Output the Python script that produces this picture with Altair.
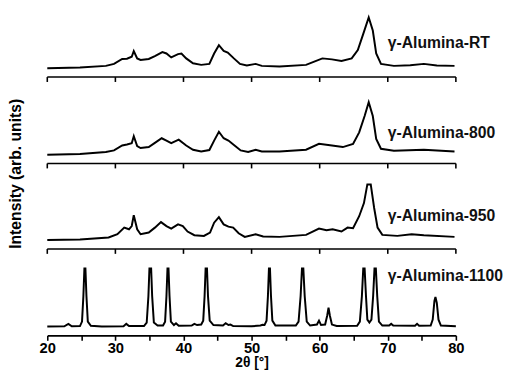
import altair as alt
import pandas as pd

# ---- data (x = 2θ in degrees, y = intensity in arbitrary units) ----
x_rt = [20, 24.8, 28.6, 29.8, 31.0, 31.7, 32.4, 32.7, 33.2, 33.7, 34.9, 35.8, 36.9, 37.5, 38.2,
        39.2, 39.7, 40.4, 41.4, 42.6, 43.8, 44.5, 45.2, 45.9, 46.5, 47.4, 48.3, 49.3, 50.6, 51.5,
        54.1, 58.0, 59.2, 60.4, 61.8, 63.2, 64.7, 65.6, 66.4, 67.2, 67.8, 68.3, 69.0, 70.9, 73.3,
        75.3, 77.2, 79.8]
y_rt = [9, 9.7, 11.4, 13.4, 18.4, 18.7, 20.7, 26.4, 19, 17.4, 18.4, 21.4, 25.4, 24, 20,
        23.4, 24, 19, 14, 12.4, 13.4, 24, 32.4, 26.7, 25, 19, 13.4, 11.7, 13.4, 11.4,
        10.7, 12.4, 15.7, 19, 18, 16.4, 19, 27.4, 44, 60.7, 47.4, 24, 13.4, 11.4, 12,
        13.4, 11.7, 11.4]

x_800 = [20, 24.8, 28.6, 29.8, 31.0, 31.7, 32.4, 32.7, 33.2, 33.7, 34.9, 35.8, 36.8, 37.5, 38.2,
         39.3, 40.4, 41.4, 42.6, 43.8, 44.5, 45.2, 45.9, 46.6, 47.5, 48.4, 49.5, 50.6, 51.5, 54.1,
         58.0, 59.9, 61.8, 63.4, 64.9, 65.8, 66.6, 67.2, 67.8, 68.3, 69.0, 70.9, 75.3, 79.8]
y_800 = [9, 9.7, 11.7, 13.3, 18.3, 19.3, 20.7, 27.7, 17.7, 15.7, 16.7, 21, 25.7, 23.3, 20.7,
         24.3, 18.3, 14, 12.3, 13.7, 23.3, 32.3, 25.7, 23.3, 18.3, 13.3, 11.7, 14, 12.3, 12.3,
         14, 20, 18.3, 16.7, 20, 31.7, 48.3, 62.3, 48.3, 25, 15, 13, 14, 12.3]

x_950 = [20, 24.8, 29.0, 30.3, 31.3, 32.0, 32.4, 32.7, 33.2, 33.7, 34.9, 35.8, 36.7, 37.5, 38.2,
         39.2, 39.9, 40.6, 41.6, 43.0, 43.9, 44.5, 45.2, 45.9, 46.6, 47.3, 48.1, 49.0, 50.6, 51.7,
         54.1, 58.0, 59.9, 61.0, 61.9, 63.2, 64.1, 64.9, 65.8, 66.5, 67.0, 67.5, 68.0, 68.5, 69.2,
         71.4, 73.5, 75.3, 79.8]
y_950 = [9, 9.7, 11.7, 15, 21.7, 20, 23.3, 34.3, 20, 15, 16.7, 21.7, 27.3, 23.3, 20.7,
         25, 23.3, 17.7, 14, 13.3, 16.7, 26.7, 32.3, 25, 22.7, 21.7, 16, 12.3, 15, 12.7,
         12.3, 14.3, 20.7, 19, 20, 17.7, 21.7, 21, 33.3, 46.7, 65.7, 65.7, 41.7, 21.7, 14.3,
         13.3, 15, 14, 12.3]

x_1100 = [20, 22.5, 23.1, 23.6, 24.8, 25.1, 25.3, 25.45, 25.6, 25.75, 25.95, 26.4, 28, 31.2, 31.6,
          32.0, 34.2, 34.6, 34.85, 35.0, 35.25, 35.4, 35.65, 36.2, 37.0, 37.3, 37.5, 37.65, 37.8,
          37.95, 38.15, 38.6, 38.9, 39.3, 41.2, 41.6, 42.0, 42.6, 42.9, 43.1, 43.25, 43.45, 43.6,
          43.85, 44.4, 45.8, 46.2, 46.6, 46.9, 47.3, 50.0, 51.3, 51.6, 51.9, 52.2, 52.4, 52.55,
          52.7, 52.85, 53.05, 53.5, 56.5, 56.9, 57.2, 57.4, 57.6, 57.8, 58.1, 58.6, 59.6, 59.9,
          60.2, 60.8, 61.1, 61.3, 61.5, 61.8, 62.5, 65.5, 65.9, 66.2, 66.4, 66.6, 66.8, 67.0,
          67.3, 67.6, 67.85, 68.05, 68.25, 68.45, 68.7, 69.2, 70.2, 70.5, 70.8, 74.0, 74.3, 74.6,
          76.3, 76.6, 76.85, 77.0, 77.2, 77.45, 77.8, 80]
y_1100 = [9, 9.3, 11.7, 9.3, 9.5, 14, 40, 68, 68, 40, 14, 9.8, 9, 9.3, 11.7,
          9.5, 9.5, 13, 40, 68, 68, 40, 13, 10, 10, 14, 40, 68, 68,
          40, 14, 10.5, 12.3, 9.8, 10, 11.7, 10.5, 11, 15, 40, 68, 68, 40,
          15, 10.5, 10, 12.3, 10.5, 11, 9.5, 9.3, 10, 10.7, 10.5, 15, 40, 68,
          68, 40, 15, 10, 10, 14, 40, 68, 68, 40, 14, 10, 11, 15,
          10.5, 11, 20, 28.3, 20, 11, 9.5, 9.8, 14, 40, 68, 68, 40, 16,
          13, 16, 40, 68, 68, 40, 14, 10, 10, 11.7, 10, 9.8, 11.7, 9.8,
          10, 16, 35, 39, 33, 16, 10, 9.3]

samples = ["γ-Alumina-RT", "γ-Alumina-800", "γ-Alumina-950", "γ-Alumina-1100"]
series_x = [x_rt, x_800, x_950, x_1100]
series_y = [y_rt, y_800, y_950, y_1100]
label_x = [70, 70, 70, 70]
label_y = [29.7, 25.7, 28.7, 55.3]

major_ticks = [20, 30, 40, 50, 60, 70, 80]
all_ticks = [20, 25, 30, 35, 40, 45, 50, 55, 60, 65, 70, 75, 80]

# ---- layout (pixels): vertical shift of each stacked pattern, plot size ----
FONT = "Liberation Sans"
W, H = 416, 330
SHIFT = [263, 175, 88, 0]
TICK = 5

xaxis = alt.Axis(values=all_ticks, labelExpr="datum.value % 10 == 0 ? datum.label : ''",
                 title="2θ [°]", labelFontSize=15, labelFontWeight="bold",
                 labelFont=FONT, labelColor="black", titleFont=FONT, titleColor="black",
                 titleFontSize=14, titleFontWeight="bold", labelPadding=0,
                 titlePadding=1, labelFlush=False, domainColor="black",
                 tickColor="black", domainWidth=1.6, tickWidth=1.6, tickSize=TICK, grid=False)
yaxis = alt.Axis(title="Intensity (arb. units)", domain=False, ticks=False, labels=False,
                 grid=False, titleX=-24, titleFontSize=16, titleFont=FONT,
                 titleColor="black", titleFontWeight="bold")
xenc = alt.X("x:Q", scale=alt.Scale(domain=[20, 80], nice=False, zero=False), axis=xaxis)
yenc = alt.Y("y:Q", scale=alt.Scale(domain=[0, H], nice=False, zero=False), axis=yaxis)

layers = []
for i in range(len(samples)):
    df = pd.DataFrame({"x": series_x[i], "y": series_y[i]})
    lab = pd.DataFrame({"x": [label_x[i]], "y": [label_y[i]], "t": [samples[i]]})
    layers.append(alt.Chart(df).mark_line(color="black", strokeWidth=2,
                                          yOffset=-SHIFT[i]).encode(x=xenc, y=yenc))
    layers.append(alt.Chart(lab).mark_text(align="left", baseline="alphabetic", fontSize=16,
                                           fontWeight="bold", font=FONT, color="#111111",
                                           yOffset=-SHIFT[i]).encode(x=xenc, y=yenc, text="t:N"))
    if i < len(samples) - 1:
        base_df = pd.DataFrame({"x": [major_ticks[0]], "x2": [major_ticks[-1]], "y": [0]})
        tick_df = pd.DataFrame({"x": major_ticks, "y": [0] * len(major_ticks),
                                "y2": [-TICK] * len(major_ticks)})
        layers.append(alt.Chart(base_df).mark_rule(color="black", strokeWidth=1.6,
                                                   yOffset=-SHIFT[i]).encode(
            x=xenc, x2="x2:Q", y=yenc))
        layers.append(alt.Chart(tick_df).mark_rule(color="black", strokeWidth=1.6,
                                                   yOffset=-SHIFT[i],
                                                   y2Offset=-SHIFT[i]).encode(
            x=xenc, y=yenc, y2="y2:Q"))

chart = alt.layer(*layers).properties(
    width=W, height=H, padding={"left": 0, "top": 0, "right": 0, "bottom": 0}
).configure_view(stroke=None)

chart.save("out.html", embed_options={"renderer": "svg", "actions": False})
